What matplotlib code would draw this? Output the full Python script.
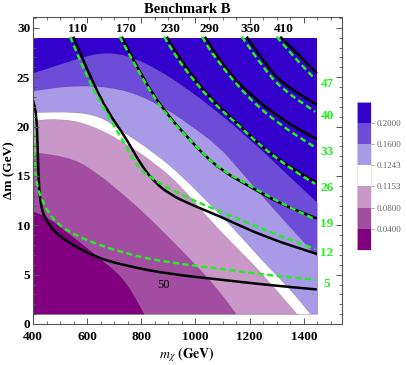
import numpy as np
import matplotlib
matplotlib.use("Agg")
import matplotlib.pyplot as plt
from matplotlib.ticker import MultipleLocator
from matplotlib.path import Path
from matplotlib.patches import PathPatch

plt.rcParams['font.family'] = ['Liberation Serif', 'DejaVu Serif']
plt.rcParams['mathtext.fontset'] = 'stix'

# data region of the scan
MX_MIN, MX_MAX = 400, 1450
DM_MIN, DM_MAX = 1, 29

# filled regions, colours from the legend (lowest first)
levels = ["0.0400", "0.0800", "0.1153", "0.1243", "0.1600", "0.2000"]
colors = ["#800080", "#a24ca2", "#c998c9", "#ffffff", "#a99ae8", "#6d4cd8", "#3300cc"]

# boundaries between bands (mchi, dm)
b_004 = [(400, 11.4), (460, 10.7), (524, 9.3), (590, 7.9), (648, 6.6), (740, 4.5), (810, 1)]
b_008 = [(400, 17.4), (550, 16.8), (650, 15.0), (720, 13.4), (800, 11.5), (900, 8.8),
         (1000, 6.0), (1080, 3.6), (1150, 1)]
b_01153 = [(400, 20.6), (500, 20.8), (600, 20.3), (720, 18.7), (850, 16.3), (950, 13.9),
           (1050, 10.6), (1150, 7.8), (1250, 5.0), (1375, 1)]
b_01243 = [(400, 21.4), (555, 21.5), (650, 21.0), (720, 19.7), (850, 17.3), (950, 15.0),
           (1072, 11.6), (1150, 9.4), (1257, 6.1), (1350, 3.5), (1425, 1)]
b_016 = [(400, 23.6), (555, 24.2), (720, 23.9), (850, 22.5), (970, 20.4), (1090, 17.9),
         (1150, 16.0), (1300, 11.3), (1450, 6.8)]
b_02 = [(400, 25.4), (555, 26.8), (650, 27.5), (740, 27.3), (843, 26.1), (968, 23.9),
        (1091, 21.3), (1180, 19.2), (1257, 17.3), (1330, 15.4), (1450, 12.3)]
boundaries = [b_004, b_008, b_01153, b_01243, b_016, b_02]

# black contours and labels
black_vals = [50, 110, 170, 230, 290, 350, 410]
black_50 = [(400, 22.7), (413, 21.2), (417, 18.0), (420, 15.2), (426, 12.3), (444, 10.6),
            (493, 8.9), (617, 6.9), (740, 5.9), (906, 5.05), (1091, 4.5), (1250, 4.0), (1448, 3.5)]
black_110 = [(549, 29.1), (617, 24.7), (678, 21.4), (740, 19.0), (795, 16.3), (844, 14.5),
             (906, 13.1), (992, 12.0), (1091, 10.9), (1257, 8.8), (1448, 7.1)]
black_170 = [(728, 29.1), (783, 26.1), (844, 23.2), (906, 20.9), (968, 19.0), (1029, 17.2),
             (1100, 15.5), (1195, 14.0), (1319, 12.1), (1448, 10.7)]
black_230 = [(894, 29.1), (940, 27.0), (1000, 24.7), (1072, 22.4), (1150, 20.5), (1257, 17.6),
             (1380, 15.4), (1448, 14.3)]
black_290 = [(1035, 29.1), (1072, 27.4), (1130, 25.3), (1195, 23.4), (1319, 20.7), (1448, 18.7)]
black_350 = [(1189, 29.1), (1257, 26.4), (1319, 24.4), (1448, 22.2)]
black_410 = [(1313, 29.1), (1380, 27.3), (1448, 25.4)]
black_lines = [black_50, black_110, black_170, black_230, black_290, black_350, black_410]

# green dashed contours and labels
green_vals = [5, 12, 19, 26, 33, 40, 47]
green_5 = [(400, 21.2), (405, 18.0), (407, 15.7), (415, 14.0), (426, 13.0), (469, 10.6),
           (555, 8.9), (740, 7.1), (906, 6.2), (1091, 5.6), (1250, 5.0), (1442, 4.5)]
green_12 = [(537, 29.1), (600, 25.0), (660, 21.9), (740, 18.2), (783, 16.0), (844, 14.6),
            (968, 12.8), (1091, 11.4), (1257, 9.5), (1442, 7.6)]
green_19 = [(720, 29.1), (775, 26.3), (836, 23.4), (898, 21.0), (960, 19.2), (1020, 17.5),
            (1085, 15.8), (1195, 14.1), (1319, 12.2), (1442, 10.6)]
green_26 = [(884, 29.1), (930, 27.0), (990, 24.8), (1065, 22.4), (1145, 20.5), (1250, 17.8),
            (1375, 15.3), (1442, 14.2)]
green_33 = [(1025, 29.1), (1065, 27.2), (1190, 23.0), (1315, 20.1), (1442, 17.9)]
green_40 = [(1171, 29.1), (1250, 26.0), (1315, 23.9), (1442, 21.5)]
green_47 = [(1300, 29.1), (1372, 26.8), (1442, 24.8)]
green_lines = [green_5, green_12, green_19, green_26, green_33, green_40, green_47]

GREEN = "#22ee22"


def smooth_path(pts, close_with=None):
    # quadratic bezier through the midpoints, points used as control points
    p = np.asarray(pts, dtype=float)
    verts = [p[0], (p[0] + p[1]) / 2]
    codes = [Path.MOVETO, Path.LINETO]
    for i in range(1, len(p) - 1):
        verts += [p[i], (p[i] + p[i + 1]) / 2]
        codes += [Path.CURVE3, Path.CURVE3]
    verts.append(p[-1])
    codes.append(Path.LINETO)
    if close_with is not None:
        for q in close_with:
            verts.append(q)
            codes.append(Path.LINETO)
        verts.append(p[0])
        codes.append(Path.CLOSEPOLY)
    return Path(verts, codes)


fig = plt.figure(figsize=(4.07, 3.65), dpi=100)
ax = fig.add_axes([33 / 407, 1 - 324 / 365, 308.7 / 407, 307 / 365])

# paint bands from the top one down
ax.fill([MX_MIN, MX_MAX, MX_MAX, MX_MIN], [DM_MIN, DM_MIN, DM_MAX, DM_MAX],
        color=colors[-1], lw=0)
for i in range(len(boundaries) - 1, -1, -1):
    pts = boundaries[i]
    closing = [(pts[-1][0], DM_MIN), (MX_MIN, DM_MIN)]
    ax.add_patch(PathPatch(smooth_path(pts, closing), facecolor=colors[i],
                           edgecolor="#00000028", lw=0.4))

for val, line in zip(black_vals, black_lines):
    ax.add_patch(PathPatch(smooth_path(line), fill=False, edgecolor="black", lw=1.8,
                           capstyle="butt"))
    if val == 50:
        ax.text(881, 4.0, str(val), ha="center", va="center", fontsize=9)
    else:
        ax.text(line[0][0] + 15, 29.85, str(val), ha="center", va="center",
                fontsize=9.5, fontweight="bold")

for val, line in zip(green_vals, green_lines):
    ax.add_patch(PathPatch(smooth_path(line), fill=False, edgecolor=GREEN, lw=1.8,
                           linestyle=(0, (2.4, 1.4))))
    ax.text(1486, line[-1][1] - 0.45, str(val), ha="center", va="center",
            fontsize=9.5, fontweight="bold", color=GREEN)

ax.set_xlim(400, 1540)
ax.set_ylim(0, 31.1)
ax.xaxis.set_major_locator(MultipleLocator(200))
ax.xaxis.set_minor_locator(MultipleLocator(50))
ax.yaxis.set_major_locator(MultipleLocator(5))
ax.yaxis.set_minor_locator(MultipleLocator(1))
ax.tick_params(which="both", direction="in", top=True, right=True, color="#555555",
               labelsize=9.5)
ax.tick_params(axis="x", pad=5)
ax.tick_params(axis="y", pad=2)
ax.tick_params(which="major", length=4, width=0.7)
ax.tick_params(which="minor", length=2, width=0.6)
for lab in ax.get_xticklabels() + ax.get_yticklabels():
    lab.set_fontweight("bold")
for s in ax.spines.values():
    s.set_color("#555555")
    s.set_linewidth(0.8)

ax.set_xlabel(r"$m_\chi\ \mathbf{(GeV)}$", fontsize=10, labelpad=2)
ax.set_ylabel("Δm (GeV)", fontsize=9.5, fontweight="bold", labelpad=1)
ax.set_title("Benchmark B", fontsize=10.5, fontweight="bold", pad=3)

# legend bar
cax = fig.add_axes([356.7 / 407, 1 - 250 / 365, 14 / 407, 148.3 / 365])
cax.bar([0] * len(colors), [1] * len(colors), bottom=np.arange(len(colors)),
        color=colors, width=1)
cax.set_xlim(-0.5, 0.5)
cax.set_ylim(0, len(colors))
cax.set_xticks([])
cax.set_yticks(np.arange(1, len(levels) + 1))
cax.set_yticklabels(levels)
cax.yaxis.tick_right()
cax.tick_params(axis="y", length=2.5, width=0.5, color="#888888", labelsize=6.5,
                labelcolor="#666666", pad=1.5)
for s in cax.spines.values():
    s.set_color("#dddddd")
    s.set_linewidth(0.5)

fig.savefig("out.png", dpi=100)
